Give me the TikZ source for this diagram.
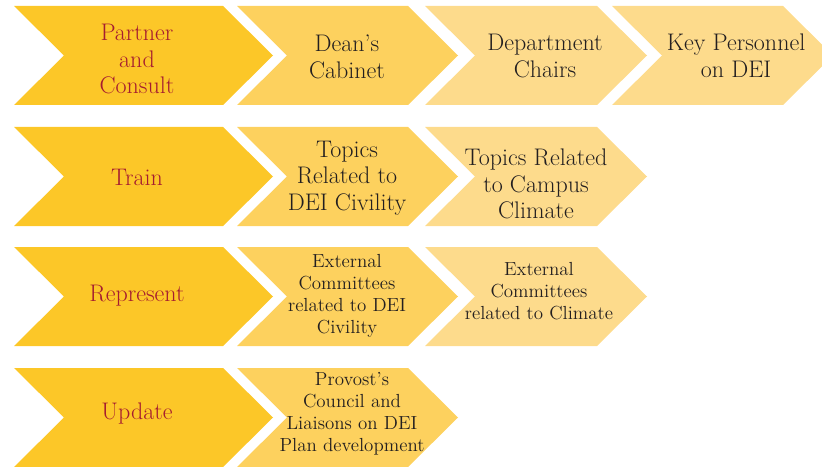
\documentclass[tikz,border=0pt]{standalone}
\usepackage{fontspec}

\definecolor{chevdark}{RGB}{252,199,40}
\definecolor{chevmid}{RGB}{253,209,94}
\definecolor{chevpale}{RGB}{253,219,140}
\definecolor{crimson}{RGB}{165,28,48}
\definecolor{ink}{RGB}{35,31,32}
\def\tipw{50}
\def\rowh{99}

\tikzset{
  lead/.style={text=crimson, inner sep=0pt, align=center, font=\fontsize{18}{20}\selectfont},
  item/.style={text=ink, inner sep=0pt, align=center, font=\fontsize{18}{20}\selectfont},
  smallitem/.style={item, font=\fontsize{14.2}{16.5}\selectfont},
}

\begin{document}
\begin{tikzpicture}[x=0.75pt,y=-0.75pt]%
  \clip (0,0) rectangle (822,467);%
  \foreach \lx/\rx/\ty/\shade in {%
      14/223/6/chevdark, 237/408/6/chevmid, 425/597/6/chevpale, 612/783/6/chevpale,%
      14/223/127/chevdark, 237/408/127/chevmid, 425/597/127/chevpale,%
      14/223/247/chevdark, 237/408/247/chevmid, 425/597/247/chevpale,%
      14/223/368/chevdark, 237/408/368/chevmid%
    }{%
      % Chevron: notch on the left, point on the right
      \fill[\shade] (\lx,\ty) -- (\rx,\ty) -- (\rx+\tipw,\ty+0.5*\rowh)%
        -- (\rx,\ty+\rowh) -- (\lx,\ty+\rowh) -- (\lx+\tipw,\ty+0.5*\rowh) -- cycle;%
    };%
  % Actions
  \node[lead] (partner) at (137,59) {Partner\\and\\Consult};%
  \node[lead] (train) at (137,177) {Train};%
  \node[lead] (represent) at (137,296) {Represent};%
  \node[lead] (update) at (137,414) {Update};%
  % Partner and consult
  \node[item] (deans) at (347,57) {Dean's\\Cabinet};%
  \node[item] (chairs) at (545,56) {Department\\Chairs};%
  \node[item] (keypers) at (736,56) {Key Personnel\\on DEI};%
  % Train
  \node[item] (topicsdei) at (347,178) {Topics\\Related to\\DEI Civility};%
  \node[item] (topicsclim) at (536,184) {Topics Related\\to Campus\\Climate};%
  % Represent
  \node[smallitem] (extdei) at (347,296) {External\\Committees\\related to DEI\\Civility};%
  \node[smallitem] (extclim) at (539,291) {External\\Committees\\related to Climate};%
  % Update
  \node[smallitem] (provost) at (352,414) {Provost's\\Council and\\Liaisons on DEI\\Plan development};%
\end{tikzpicture}
\end{document}
